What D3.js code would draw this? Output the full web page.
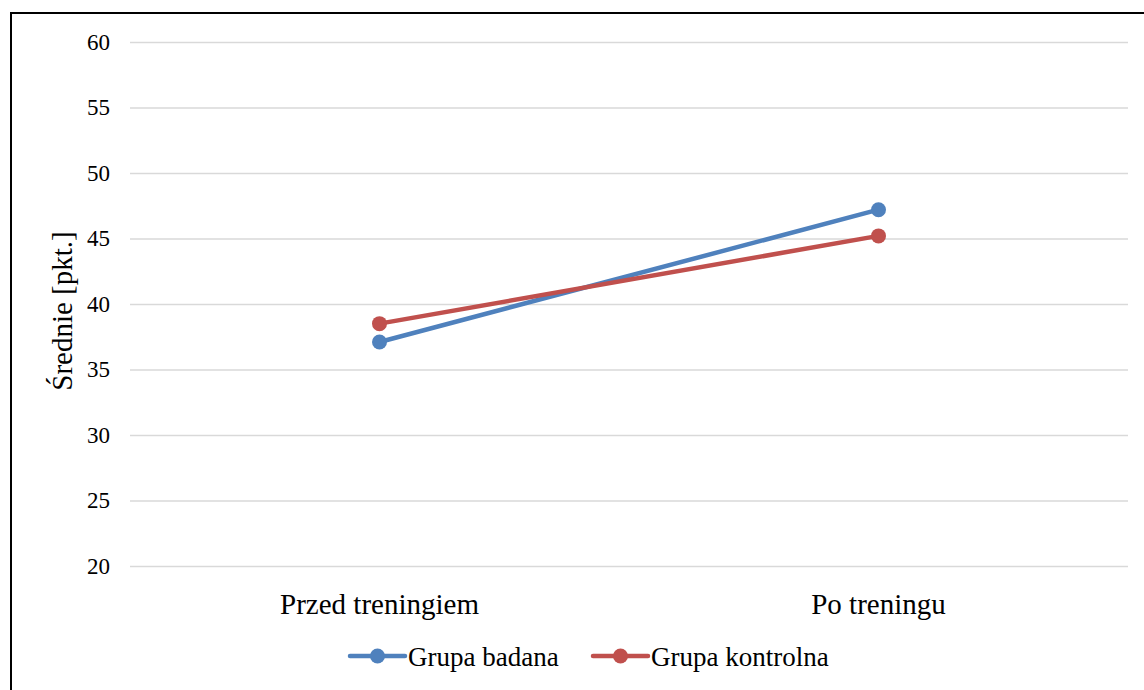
<!DOCTYPE html>
<html>
<head>
<meta charset="utf-8">
<script src="https://cdn.jsdelivr.net/npm/d3@7"></script>
<style>
  html, body { margin: 0; padding: 0; background: #fff; }
  svg { display: block; }
</style>
</head>
<body>
<svg id="chart" width="1144" height="690"></svg>
<script>
// Mean scores before and after training
const categories = ["Przed treningiem", "Po treningu"];
const seriesNames = ["Grupa badana", "Grupa kontrolna"];
const grupaBadana = [37.1, 47.2];
const grupaKontrolna = [38.5, 45.2];
const yTicks = [20, 25, 30, 35, 40, 45, 50, 55, 60];
const colors = ["#4F81BD", "#C0504D"];

const FONT = "'Liberation Serif', 'Times New Roman', serif";

const series = [
  { name: seriesNames[0], values: grupaBadana, color: colors[0] },
  { name: seriesNames[1], values: grupaKontrolna, color: colors[1] }
];

const svg = d3.select("#chart");

// Outer chart frame
svg.append("rect")
  .attr("x", 11).attr("y", 13)
  .attr("width", 1145).attr("height", 690)
  .attr("fill", "none").attr("stroke", "#000").attr("stroke-width", 2);

const plot = { left: 130, right: 1128, top: 42, bottom: 566 };

const x = d3.scaleBand().domain(categories).range([plot.left, plot.right]);
const y = d3.scaleLinear().domain([20, 60]).range([plot.bottom, plot.top]);

// Horizontal gridlines with value labels
const yAxis = d3.axisLeft(y).tickValues(yTicks).tickSize(-(plot.right - plot.left)).tickPadding(20);
const gy = svg.append("g").attr("transform", `translate(${plot.left},0)`).call(yAxis);
gy.select(".domain").remove();
gy.selectAll(".tick line").attr("stroke", "#d9d9d9").attr("stroke-width", 1.3);
gy.selectAll(".tick text")
  .attr("fill", "#000")
  .style("font-family", FONT).style("font-size", "23px");

// Category labels
const xAxis = d3.axisBottom(x).tickSize(0).tickPadding(48);
const gx = svg.append("g").attr("transform", `translate(0,${plot.bottom})`).call(xAxis);
gx.select(".domain").remove();
gx.selectAll(".tick text")
  .attr("fill", "#000").attr("dy", "0")
  .style("font-family", FONT).style("font-size", "29px");

// Y axis title
svg.append("text")
  .attr("transform", `translate(72,${(plot.top + plot.bottom) / 2 + 7}) rotate(-90)`)
  .attr("text-anchor", "middle")
  .attr("fill", "#000")
  .style("font-family", FONT).style("font-size", "29px")
  .text("Średnie [pkt.]");

// Series lines and markers
const line = d3.line()
  .x((d, i) => x(categories[i]) + x.bandwidth() / 2)
  .y(d => y(d));

series.forEach(s => {
  svg.append("path")
    .datum(s.values)
    .attr("d", line)
    .attr("fill", "none")
    .attr("stroke", s.color)
    .attr("stroke-width", 4.5)
    .attr("stroke-linecap", "round");
  svg.selectAll(null)
    .data(s.values)
    .enter().append("circle")
    .attr("cx", (d, i) => x(categories[i]) + x.bandwidth() / 2)
    .attr("cy", d => y(d))
    .attr("r", 7.5)
    .attr("fill", s.color);
});

// Legend
const legendItems = [
  { x: 350, s: series[0] },
  { x: 593, s: series[1] }
];
const ly = 656;
legendItems.forEach(it => {
  const g = svg.append("g");
  g.append("line")
    .attr("x1", it.x).attr("x2", it.x + 55)
    .attr("y1", ly).attr("y2", ly)
    .attr("stroke", it.s.color).attr("stroke-width", 4.5).attr("stroke-linecap", "round");
  g.append("circle").attr("cx", it.x + 27.5).attr("cy", ly).attr("r", 7.5).attr("fill", it.s.color);
  g.append("text")
    .attr("x", it.x + 58).attr("y", ly + 10)
    .attr("fill", "#000")
    .style("font-family", FONT).style("font-size", "27px")
    .text(it.s.name);
});
</script>
</body>
</html>
